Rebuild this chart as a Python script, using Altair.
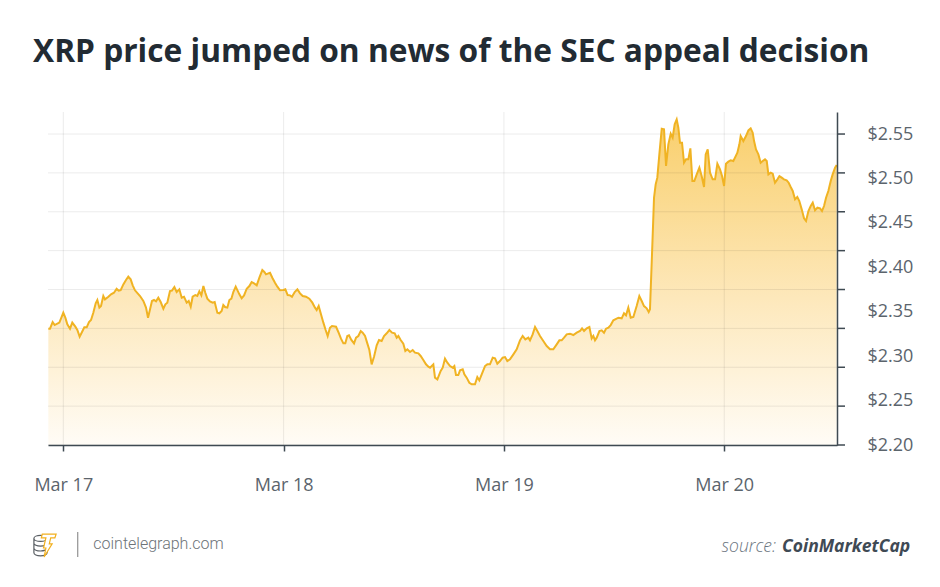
import altair as alt
import pandas as pd

TITLE = ["XRP price jumped on news of the SEC appeal decision"]

# hours after 2025-03-17 00:00 and XRP price (USD)
hours = [
    -1.63, -1.45, -1.16, -0.94, -0.65, -0.43, -0.21, 0.00, 0.22, 0.44, 0.73, 0.98, 1.31, 1.53, 1.78,
    2.04, 2.29, 2.55, 2.80, 3.02, 3.27, 3.53, 3.71, 3.93, 4.11, 4.36, 4.54, 4.91, 5.20, 5.52,
    5.81, 6.03, 6.25, 6.54, 6.83, 7.08, 7.34, 7.56, 7.81, 8.10, 8.36, 8.72, 9.01, 9.23, 9.45,
    9.66, 9.88, 10.10, 10.35, 10.61, 10.90, 11.12, 11.33, 11.62, 11.84, 12.10, 12.35, 12.64, 12.90, 13.15,
    13.44, 13.66, 13.88, 14.09, 14.38, 14.60, 14.82, 15.04, 15.26, 15.47, 15.69, 15.98, 16.27, 16.49, 16.78,
    17.00, 17.25, 17.43, 17.62, 17.87, 18.09, 18.31, 18.52, 18.78, 19.18, 19.43, 19.69, 19.98, 20.27, 20.52,
    20.78, 21.07, 21.36, 21.68, 21.90, 22.08, 22.34, 22.52, 22.77, 23.06, 23.32, 23.61, 23.97, 24.19, 24.44,
    24.70, 24.91, 25.21, 25.50, 25.79, 26.08, 26.44, 26.80, 27.13, 27.42, 27.60, 27.82, 28.07, 28.33, 28.58,
    28.80, 29.05, 29.27, 29.71, 29.96, 30.25, 30.51, 30.72, 30.94, 31.12, 31.38, 31.67, 31.89, 32.14, 32.40,
    32.61, 32.87, 33.12, 33.34, 33.59, 33.85, 34.14, 34.39, 34.68, 34.94, 35.23, 35.52, 35.81, 36.10, 36.32,
    36.50, 36.75, 37.04, 37.26, 37.48, 37.77, 38.06, 38.31, 38.68, 38.93, 39.22, 39.51, 39.77, 39.95, 40.31,
    40.49, 40.75, 41.11, 41.33, 41.58, 41.84, 42.13, 42.42, 42.60, 42.78, 43.03, 43.22, 43.51, 43.69, 43.94,
    44.23, 44.49, 44.85, 45.10, 45.32, 45.58, 45.94, 46.19, 46.48, 46.78, 47.03, 47.28, 47.57, 47.86, 48.12,
    48.37, 48.66, 49.03, 49.39, 49.75, 50.04, 50.33, 50.66, 50.84, 51.13, 51.39, 51.64, 51.93, 52.29, 52.66,
    53.02, 53.38, 53.75, 54.04, 54.29, 54.55, 54.84, 55.20, 55.56, 55.93, 56.29, 56.51, 56.73, 57.02, 57.31,
    57.56, 57.74, 57.92, 58.11, 58.40, 58.65, 58.90, 59.12, 59.38, 59.63, 59.92, 60.47, 60.83, 61.08, 61.30,
    61.55, 61.81, 62.10, 62.46, 62.75, 63.01, 63.26, 63.55, 63.77, 63.91, 64.17, 64.35, 64.53, 64.71, 64.93,
    65.19, 65.44, 65.66, 65.91, 66.17, 66.38, 66.60, 66.82, 67.00, 67.18, 67.40, 67.62, 67.84, 68.09, 68.31,
    68.53, 68.74, 69.00, 69.29, 69.54, 69.80, 69.98, 70.20, 70.45, 70.74, 71.00, 71.25, 71.54, 71.76, 71.98,
    72.19, 72.45, 72.70, 72.99, 73.17, 73.43, 73.65, 73.79, 74.08, 74.37, 74.63, 74.88, 75.10, 75.25, 75.46,
    75.72, 75.97, 76.19, 76.44, 76.63, 76.81, 77.06, 77.28, 77.53, 77.79, 78.01, 78.26, 78.51, 78.80, 79.02,
    79.24, 79.46, 79.71, 79.96, 80.18, 80.44, 80.69, 80.91, 81.17, 81.42, 81.64, 81.89, 82.15, 82.44, 82.65,
    82.87, 83.09, 83.34, 83.60, 83.81, 84.07, 84.25,
]
price = [
    2.3309, 2.3309, 2.3384, 2.3350, 2.3365, 2.3377, 2.3433, 2.3489, 2.3433, 2.3358, 2.3309, 2.3377, 2.3332, 2.3294, 2.3219,
    2.3272, 2.3324, 2.3324, 2.3384, 2.3407, 2.3489, 2.3594, 2.3632, 2.3546, 2.3564, 2.3677, 2.3639, 2.3669, 2.3696, 2.3714,
    2.3759, 2.3737, 2.3744, 2.3808, 2.3857, 2.3894, 2.3864, 2.3797, 2.3741, 2.3707, 2.3677, 2.3621, 2.3546, 2.3433, 2.3527,
    2.3621, 2.3632, 2.3617, 2.3658, 2.3609, 2.3534, 2.3583, 2.3602, 2.3733, 2.3737, 2.3778, 2.3722, 2.3752, 2.3658, 2.3669,
    2.3602, 2.3621, 2.3557, 2.3669, 2.3688, 2.3677, 2.3729, 2.3684, 2.3789, 2.3714, 2.3647, 2.3617, 2.3602, 2.3609, 2.3489,
    2.3482, 2.3508, 2.3576, 2.3553, 2.3546, 2.3632, 2.3647, 2.3722, 2.3782, 2.3696, 2.3651, 2.3684, 2.3759, 2.3789, 2.3834,
    2.3819, 2.3797, 2.3883, 2.3969, 2.3947, 2.3921, 2.3932, 2.3939, 2.3883, 2.3827, 2.3782, 2.3741, 2.3744, 2.3752, 2.3688,
    2.3684, 2.3669, 2.3722, 2.3752, 2.3707, 2.3677, 2.3669, 2.3647, 2.3602, 2.3546, 2.3519, 2.3564, 2.3471, 2.3377, 2.3294,
    2.3227, 2.3320, 2.3339, 2.3332, 2.3272, 2.3197, 2.3144, 2.3144, 2.3227, 2.3234, 2.3182, 2.3144, 2.3208, 2.3227, 2.3283,
    2.3264, 2.3227, 2.3144, 2.3069, 2.2908, 2.2994, 2.3122, 2.3182, 2.3170, 2.3227, 2.3257, 2.3294, 2.3264, 2.3257, 2.3208,
    2.3227, 2.3182, 2.3140, 2.3058, 2.3077, 2.3047, 2.3069, 2.3039, 2.3032, 2.3002, 2.2957, 2.2908, 2.2882, 2.2870, 2.2908,
    2.2758, 2.2739, 2.2833, 2.2870, 2.2972, 2.2927, 2.2889, 2.2870, 2.2889, 2.2788, 2.2788, 2.2840, 2.2852, 2.2795, 2.2758,
    2.2701, 2.2683, 2.2683, 2.2765, 2.2728, 2.2795, 2.2889, 2.2908, 2.2908, 2.2983, 2.2975, 2.2915, 2.2945, 2.2983, 2.2990,
    2.2945, 2.2964, 2.3020, 2.3077, 2.3178, 2.3227, 2.3189, 2.3208, 2.3178, 2.3245, 2.3328, 2.3283, 2.3227, 2.3170, 2.3114,
    2.3077, 2.3077, 2.3133, 2.3178, 2.3178, 2.3208, 2.3245, 2.3253, 2.3238, 2.3264, 2.3283, 2.3313, 2.3283, 2.3313, 2.3328,
    2.3200, 2.3227, 2.3178, 2.3208, 2.3283, 2.3290, 2.3264, 2.3309, 2.3320, 2.3350, 2.3403, 2.3433, 2.3426, 2.3482, 2.3459,
    2.3546, 2.3433, 2.3441, 2.3564, 2.3677, 2.3621, 2.3564, 2.3538, 2.3497, 2.3527, 2.4258, 2.4783, 2.4934, 2.5009, 2.5271,
    2.5560, 2.5553, 2.5140, 2.5384, 2.5504, 2.5459, 2.5609, 2.5665, 2.5571, 2.5402, 2.5402, 2.5177, 2.5215, 2.5215, 2.5339,
    2.4971, 2.4971, 2.5046, 2.5121, 2.5027, 2.4904, 2.5271, 2.5327, 2.5065, 2.4990, 2.4990, 2.5166, 2.5102, 2.5027, 2.4915,
    2.5166, 2.5189, 2.5204, 2.5196, 2.5234, 2.5290, 2.5384, 2.5477, 2.5421, 2.5477, 2.5541, 2.5564, 2.5515, 2.5421, 2.5327,
    2.5271, 2.5177, 2.5196, 2.5215, 2.5196, 2.5046, 2.5065, 2.5054, 2.4952, 2.4990, 2.5027, 2.5009, 2.4990, 2.4979, 2.4952,
    2.4904, 2.4859, 2.4765, 2.4791, 2.4746, 2.4652, 2.4551, 2.4521, 2.4633, 2.4690, 2.4727, 2.4641, 2.4671, 2.4663, 2.4633,
    2.4690, 2.4783, 2.4859, 2.4971, 2.5046, 2.5121, 2.5151,
]

day_ticks = ["2025-03-17T00:00:00", "2025-03-18T00:00:00", "2025-03-19T00:00:00", "2025-03-20T00:00:00"]
price_labels = [2.20, 2.25, 2.30, 2.35, 2.40, 2.45, 2.50, 2.55]
grid_levels = [2.20, 2.24375, 2.2875, 2.33125, 2.375, 2.41875, 2.4625, 2.50625, 2.55]
footer_site = ["cointelegraph.com"]
source_prefix = ["source:"]
source_name = ["CoinMarketCap"]

W, H = 789, 333
AXIS_COLOR = "#3f4a52"
LABEL_COLOR = "#5b646c"

start = pd.Timestamp("2025-03-17")
df = pd.DataFrame({"time": start + pd.to_timedelta(hours, unit="h"), "price": price})
days_df = pd.DataFrame({"time": pd.to_datetime(day_ticks)})
grid_df = pd.DataFrame({"price": grid_levels})

xscale = alt.Scale(domain=[
    alt.DateTime(year=2025, month=3, date=16, hours=22, minutes=20),
    alt.DateTime(year=2025, month=3, date=20, hours=12, minutes=17),
])
yscale = alt.Scale(domain=[2.20, 2.5748], zero=False, nice=False)

x_axis = alt.Axis(
    values=[alt.DateTime(year=2025, month=3, date=d) for d in (17, 18, 19, 20)],
    format="%b %-d", title=None, grid=False, zindex=1,
    domainColor=AXIS_COLOR, domainWidth=1.5,
    tickColor=AXIS_COLOR, tickWidth=1.5, tickSize=6,
    labelFont="Open Sans", labelFontSize=18, labelColor=LABEL_COLOR,
    labelPadding=25, labelFlush=False,
)
y_axis = alt.Axis(
    orient="right", values=price_labels, format="$.2f", title=None, grid=False,
    ticks=False, tickSize=0, zindex=1,
    domainColor=AXIS_COLOR, domainWidth=1.5,
    labelFont="Open Sans", labelFontSize=18, labelColor=LABEL_COLOR,
    labelPadding=30,
)

X = alt.X("time:T", scale=xscale, axis=x_axis)
Y = alt.Y("price:Q", scale=yscale, axis=y_axis)

area = alt.Chart(df).mark_area(
    color=alt.Gradient(
        gradient="linear",
        stops=[
            alt.GradientStop(color="#f9cf6c", offset=0),
            alt.GradientStop(color="#fde8bb", offset=0.55),
            alt.GradientStop(color="#fffcf6", offset=1),
        ],
        x1=1, x2=1, y1=0, y2=1,
    )
).encode(x=X, y=Y, y2=alt.datum(2.20))

hgrid = alt.Chart(grid_df).mark_rule(color="#000000", opacity=0.08, strokeWidth=1).encode(y=Y)
vgrid = alt.Chart(days_df).mark_rule(color="#000000", opacity=0.08, strokeWidth=1).encode(x=X)
yticks = alt.Chart(grid_df).mark_rule(color=AXIS_COLOR, strokeWidth=1.5).encode(
    y=Y, x=alt.value(W), x2=alt.value(W + 8),
)
line = alt.Chart(df).mark_line(color="#f0b323", strokeWidth=2).encode(x=X, y=Y)

# footer logo (coins + bolt)
k = 0.5523
def ellipse(cx, cy, rx, ry):
    return (f"M{cx-rx},{cy} C{cx-rx},{cy-k*ry} {cx-k*rx},{cy-ry} {cx},{cy-ry} "
            f"C{cx+k*rx},{cy-ry} {cx+rx},{cy-k*ry} {cx+rx},{cy} "
            f"C{cx+rx},{cy+k*ry} {cx+k*rx},{cy+ry} {cx},{cy+ry} "
            f"C{cx-k*rx},{cy+ry} {cx-rx},{cy+k*ry} {cx-rx},{cy} Z ")

def lower_half(cx, cy, rx, ry):
    return (f"M{cx-rx},{cy} C{cx-rx},{cy+k*ry} {cx-k*rx},{cy+ry} {cx},{cy+ry} "
            f"C{cx+k*rx},{cy+ry} {cx+rx},{cy+k*ry} {cx+rx},{cy} ")

coin_path = (ellipse(-0.35, -0.55, 0.55, 0.25) + lower_half(-0.35, -0.15, 0.55, 0.25)
             + lower_half(-0.35, 0.25, 0.55, 0.25) + lower_half(-0.35, 0.65, 0.55, 0.25)
             + "M-0.9,-0.55 L-0.9,0.65 M0.2,-0.55 L0.2,0.65")
bolt_path = ("M-0.2,-0.9 L0.95,-0.9 L0.85,-0.6 L0.5,-0.6 L0.38,-0.1 L0.62,-0.1 "
             "L-0.05,1.0 L0.1,0.25 L-0.1,0.25 L0.1,-0.6 L-0.28,-0.6 Z")

one = pd.DataFrame({"k": [1]})
coins = alt.Chart(one).mark_point(
    shape=coin_path, size=576, filled=False, color="#5a5f64", strokeWidth=1.2, opacity=1
).encode(x=alt.value(-3.3), y=alt.value(433))
bolt = alt.Chart(one).mark_point(
    shape=bolt_path, size=576, filled=True, fill="#ffffff", stroke="#f2b01e", strokeWidth=1.2, opacity=1
).encode(x=alt.value(-3.3), y=alt.value(433))
sep = alt.Chart(one).mark_rule(color="#9a9a9a", strokeWidth=1.3).encode(
    x=alt.value(29.7), y=alt.value(420), y2=alt.value(445)
)
title = alt.Chart(pd.DataFrame({"t": TITLE})).mark_text(
    align="left", baseline="alphabetic", font="Open Sans", fontSize=31.7, fontWeight="bold", color="#222b33"
).encode(text="t:N", x=alt.value(-15), y=alt.value(-49.7))
site = alt.Chart(pd.DataFrame({"t": footer_site})).mark_text(
    align="left", baseline="alphabetic", font="Roboto", fontSize=16, fontWeight=300, color="#6d7378"
).encode(text="t:N", x=alt.value(45.3), y=alt.value(437.3))
src1 = alt.Chart(pd.DataFrame({"t": source_prefix})).mark_text(
    align="right", baseline="alphabetic", font="Open Sans", fontSize=17.5, fontStyle="italic",
    fontWeight=300, color="#6b7580"
).encode(text="t:N", x=alt.value(728), y=alt.value(440.3))
src2 = alt.Chart(pd.DataFrame({"t": source_name})).mark_text(
    align="left", baseline="alphabetic", font="Open Sans", fontSize=17.5, fontStyle="italic",
    fontWeight="bold", color="#3f4a55"
).encode(text="t:N", x=alt.value(734), y=alt.value(440.3))

chart = alt.layer(
    area, hgrid, vgrid, line, yticks, sep, coins, bolt, title, site, src1, src2
).properties(
    width=W, height=H,
    autosize=alt.AutoSizeParams(type="none"),
    padding={"left": 40, "top": 104, "right": 95, "bottom": 134},
    background="white",
).configure_view(stroke=None)

chart.save("out.html", embed_options={"renderer": "svg", "actions": False})
